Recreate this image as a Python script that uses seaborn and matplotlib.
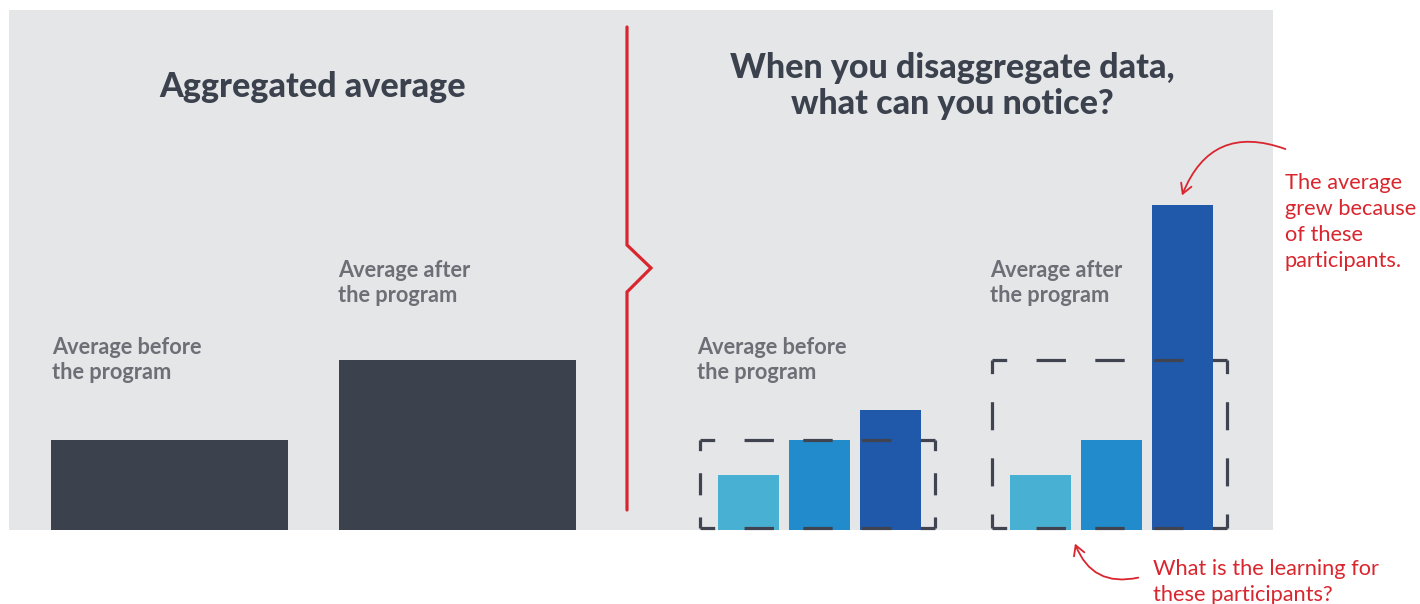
import numpy as np
import pandas as pd
import matplotlib
matplotlib.use("Agg")
import matplotlib.pyplot as plt
from matplotlib.patches import Rectangle, FancyArrowPatch
from matplotlib.lines import Line2D
import seaborn as sns

# ---------------- data ----------------
agg_labels = ["Average before\nthe program", "Average after\nthe program"]
agg_periods = ["before", "after"]
agg_values = [45, 85]

dis_periods = ["before", "after"]
dis_segments = ["low", "mid", "high"]
dis_before = [27.5, 45, 60]
dis_after = [27.5, 45, 162.5]

left_title = "Aggregated average"
right_title = "When you disaggregate data,\nwhat can you notice?"
note_top = "The average\ngrew because\nof these\nparticipants."
note_bottom = "What is the learning for\nthese participants?"

# ---------------- style ----------------
W, H = 1420, 604
BG = "#e5e6e8"
DARK = "#3b424e"
LABEL = "#6c6f75"
RED = "#d9262e"
SEG_COLORS = ["#48b1d3", "#218bcb", "#2058aa"]
DASH = "#3f4450"

sns.set_theme(style="white")
plt.rcParams["font.family"] = ["Lato", "DejaVu Sans"]
plt.rcParams["lines.scale_dashes"] = False

fig = plt.figure(figsize=(W / 100, H / 100), dpi=100)
fig.patch.set_facecolor("white")

def fx(x):
    return x / W

def fy(y):
    return 1 - y / H

# gray panel (drawn behind axes)
fig.patches.append(Rectangle((fx(9), fy(530)), fx(1273) - fx(9), fy(10) - fy(530),
                             transform=fig.transFigure, facecolor=BG, edgecolor="none",
                             zorder=-10))

base_y, top_y = 530, 10
ylim = (0, (base_y - top_y) / 2)

# ---------- left axes ----------
axL = fig.add_axes([fx(10), fy(base_y), fx(627) - fx(10), fy(top_y) - fy(base_y)])
axL.patch.set_visible(False)
dfL = pd.DataFrame({"period": agg_periods, "value": agg_values})
sns.barplot(data=dfL, x="period", y="value", order=agg_periods, color=DARK,
            width=237 / 288, linewidth=0, saturation=1, ax=axL)
for p in axL.patches:
    p.set_facecolor(DARK)
unitL = 288.0
axL.set_xlim(-(169.5 - 10) / unitL, 1 + (627 - 457.5) / unitL)
axL.set_ylim(*ylim)
axL.set_axis_off()

# ---------- right axes ----------
axR = fig.add_axes([fx(627), fy(base_y), fx(1273) - fx(627), fy(top_y) - fy(base_y)])
axR.patch.set_visible(False)
dfR = pd.DataFrame({
    "period": np.repeat(dis_periods, len(dis_segments)),
    "segment": dis_segments * len(dis_periods),
    "value": dis_before + dis_after,
})
unitR = 292.0
sns.barplot(data=dfR, x="period", y="value", hue="segment", order=dis_periods,
            hue_order=dis_segments, palette=SEG_COLORS, width=3 * 71 / unitR,
            gap=1 - 61 / 71, linewidth=0, saturation=1, legend=False, ax=axR)
axR.set_xlim(-(819.5 - 627) / unitR, 1 + (1273 - 1111.5) / unitR)
axR.set_ylim(*ylim)
axR.set_axis_off()

# dashed boxes showing the aggregated average over each group
box_w = 235 / unitR
px_per_x = unitR
px_per_y = 2.0

def dashed_side(ax, x0, y0, x1, y1, length_px):
    n = max(1, int(round(length_px / 58.0)))
    period = length_px / n
    d = period / 2 * 0.72  # px -> pt
    ax.add_line(Line2D([x0, x1], [y0, y1], color=DASH, lw=2.3,
                       linestyle=(d / 2, (d, d)), solid_capstyle="butt",
                       dash_capstyle="butt", clip_on=False, zorder=5))

for i, v in enumerate(agg_values):
    xl, xr = i - box_w / 2 - 0.007, i + box_w / 2 - 0.007
    yb, yt = 0.8, v
    wpx = (xr - xl) * px_per_x
    hpx = (yt - yb) * px_per_y
    dashed_side(axR, xl, yt, xr, yt, wpx)
    dashed_side(axR, xl, yb, xr, yb, wpx)
    dashed_side(axR, xl, yb, xl, yt, hpx)
    dashed_side(axR, xr, yb, xr, yt, hpx)

# ---------- divider ----------
fig.add_artist(Line2D([fx(627), fx(627), fx(651), fx(627), fx(627)],
                      [fy(27), fy(245), fy(268), fy(292), fy(510)],
                      transform=fig.transFigure, color=RED, lw=2.3,
                      solid_joinstyle="miter"))

# ---------- texts ----------
fig.text(fx(313), fy(87), left_title, ha="center", va="center", fontsize=24.5,
         fontweight="black", color=DARK)
fig.text(fx(952), fy(86), right_title, ha="center", va="center", fontsize=24.5,
         fontweight="black", color=DARK, linespacing=1.12)

label_pos = [(52, 360), (338, 283), (697, 360), (990, 283)]
for (x, y), lab in zip(label_pos, agg_labels + agg_labels):
    fig.text(fx(x), fy(y), lab, ha="left", va="center", fontsize=15.7,
             fontweight="bold", color=LABEL, linespacing=1.28)

fig.text(fx(1285), fy(222), note_top, ha="left", va="center", fontsize=15.7,
         fontweight="normal", color=RED, linespacing=1.38)
fig.text(fx(1153), fy(582), note_bottom, ha="left", va="center", fontsize=15.7,
         fontweight="normal", color=RED, linespacing=1.38)

# ---------- arrows ----------
arrow_kw = dict(transform=fig.transFigure, arrowstyle="->,head_length=7,head_width=4",
                color=RED, lw=1.3, mutation_scale=1)
fig.add_artist(FancyArrowPatch((fx(1288), fy(150)), (fx(1181), fy(198)),
                               connectionstyle="arc3,rad=0.5", **arrow_kw))
fig.add_artist(FancyArrowPatch((fx(1141), fy(577)), (fx(1074), fy(541)),
                               connectionstyle="arc3,rad=-0.45", **arrow_kw))

fig.savefig("out.png", dpi=100, facecolor="white")
